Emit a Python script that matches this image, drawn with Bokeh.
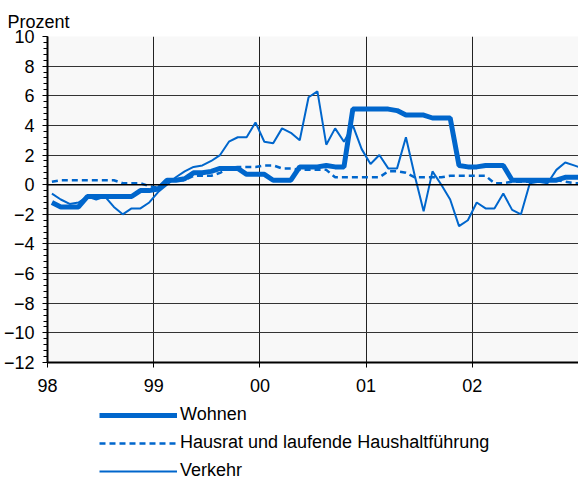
import numpy as np
from bokeh.plotting import figure
from bokeh.layouts import column
from bokeh.models import (FixedTicker, Range1d, Legend, LegendItem, Span, Title)
from bokeh.embed import file_html
from bokeh.resources import INLINE

# ---- data (monthly, Jan 1998 .. Jan 2003) ----
wohnen = [-1.2, -1.5, -1.5, -1.5, -0.8, -0.8, -0.8, -0.8, -0.8, -0.8, -0.4, -0.4,
          -0.3, 0.3, 0.3, 0.4, 0.8, 0.8, 0.9, 1.1, 1.1, 1.1, 0.7, 0.7,
          0.7, 0.3, 0.3, 0.3, 1.2, 1.2, 1.2, 1.3, 1.2, 1.2, 5.1, 5.1,
          5.1, 5.1, 5.1, 5.0, 4.7, 4.7, 4.7, 4.5, 4.5, 4.5, 1.3, 1.2,
          1.2, 1.3, 1.3, 1.3, 0.3, 0.3, 0.3, 0.3, 0.3, 0.3, 0.5, 0.5,
          0.5]
hausrat = [0.2, 0.3, 0.3, 0.3, 0.3, 0.3, 0.3, 0.3, 0.1, 0.1, 0.1, -0.1,
           -0.2, 0.3, 0.3, 0.3, 0.6, 0.6, 0.6, 0.8, 1.1, 1.2, 1.2, 1.2,
           1.3, 1.3, 1.1, 1.1, 1.0, 1.0, 1.0, 1.0, 0.5, 0.5, 0.5, 0.5,
           0.5, 0.5, 0.9, 0.9, 0.8, 0.5, 0.5, 0.5, 0.5, 0.6, 0.6, 0.6,
           0.6, 0.6, 0.1, 0.1, 0.2, 0.2, 0.2, 0.2, 0.3, 0.3, 0.2, 0.1,
           0.1]
verkehr = [-0.6, -1.0, -1.3, -1.2, -0.8, -1.0, -0.8, -1.5, -2.0, -1.6, -1.6, -1.2,
           -0.5, 0.0, 0.5, 0.9, 1.2, 1.3, 1.6, 2.0, 2.9, 3.2, 3.2, 4.2,
           2.9, 2.8, 3.8, 3.5, 3.0, 5.9, 6.3, 2.7, 3.8, 2.9, 4.0, 2.4,
           1.4, 2.0, 1.1, 1.1, 3.2, 0.6, -1.8, 0.9, 0.0, -1.0, -2.8, -2.4,
           -1.2, -1.6, -1.6, -0.6, -1.7, -2.0, 0.1, 0.2, 0.1, 1.0, 1.5, 1.3,
           1.1]
month_index = np.arange(len(wohnen))
x = 1998 + (month_index + 0.5) / 12.0

year_ticks = [1998, 1999, 2000, 2001, 2002]
year_labels = ["98", "99", "00", "01", "02"]
y_ticks = list(range(-12, 11, 2))

series_names = ["Wohnen", "Hausrat und laufende Haushaltführung", "Verkehr"]
series_values = [wohnen, hausrat, verkehr]
unit_label = "Prozent"

BLUE = "#0066CC"
FONT = "Liberation Sans"
styles = [dict(line_width=5), dict(line_width=2.5, line_dash="6 4"), dict(line_width=2)]

p = figure(width=578, height=400, output_backend="svg", toolbar_location=None,
           x_range=Range1d(1998, 2003), y_range=Range1d(-12, 10),
           min_border_left=40, min_border_right=0, min_border_top=36,
           min_border_bottom=38, background_fill_color="#F8F8F8",
           border_fill_color="white", outline_line_color=None)

# title-like unit label
p.add_layout(Title(text=unit_label, align="left", offset=-40, standoff=10,
                   text_font=FONT, text_font_size="18px", text_font_style="normal",
                   text_color="black"), "above")

# axes
p.xaxis.ticker = FixedTicker(ticks=year_ticks)
p.xaxis.major_label_overrides = {t: l for t, l in zip(year_ticks, year_labels)}
p.xaxis.minor_tick_line_color = None
p.xaxis.major_tick_in = 0
p.xaxis.major_tick_out = 5
p.xaxis.major_label_standoff = 11
p.xaxis.axis_line_width = 2
p.xaxis.axis_line_color = "black"
p.xaxis.major_tick_line_color = "black"

p.yaxis.ticker = FixedTicker(ticks=y_ticks,
                             minor_ticks=[v / 10 for v in range(-120, 101, 4)])
p.yaxis.major_tick_in = 0
p.yaxis.major_tick_out = 5
p.yaxis.minor_tick_in = 0
p.yaxis.minor_tick_out = 4
p.yaxis.major_label_standoff = 8
p.yaxis.axis_line_width = 2
p.yaxis.axis_line_color = "black"
p.yaxis.major_tick_line_color = "black"
p.yaxis.minor_tick_line_color = "black"

for ax in (p.xaxis, p.yaxis):
    ax.major_label_text_font = FONT
    ax.major_label_text_font_size = "18px"
    ax.major_label_text_color = "black"

p.xgrid.ticker = FixedTicker(ticks=year_ticks + [2003])
p.xgrid.grid_line_color = "#222222"
p.xgrid.grid_line_width = 1
p.ygrid.ticker = FixedTicker(ticks=y_ticks)
p.ygrid.grid_line_color = "#333333"
p.ygrid.grid_line_width = 1

p.add_layout(Span(location=0, dimension="width", line_color="black", line_width=1.5))

# lines (dashed first, thick on top)
for i in (1, 2, 0):
    p.line(x, series_values[i], line_color=BLUE, **styles[i])

# legend strip below the chart (same series, outside this strip's visible range)
p2 = figure(width=578, height=81, output_backend="svg", toolbar_location=None,
            x_axis_type=None, y_axis_type=None,
            x_range=Range1d(0, 1), y_range=Range1d(0, 1),
            min_border_left=0, min_border_right=0, min_border_top=0,
            min_border_bottom=0, outline_line_color=None,
            background_fill_color="white", border_fill_color="white")
p2.xgrid.visible = False
p2.ygrid.visible = False
leg_renderers = [p2.line(x, series_values[i], line_color=BLUE, **styles[i]) for i in range(3)]

legend = Legend(items=[LegendItem(label=n, renderers=[r]) for n, r in zip(series_names, leg_renderers)],
                location=(52, 0), orientation="vertical",
                glyph_width=78, glyph_height=18, label_height=18,
                label_standoff=3, spacing=7, padding=0, margin=0,
                border_line_color=None, background_fill_alpha=0,
                label_text_font=FONT, label_text_font_size="18px",
                label_text_color="black")
p2.add_layout(legend, "center")

layout = column(p, p2, spacing=0)
open("out.html", "w").write(file_html(layout, INLINE))
